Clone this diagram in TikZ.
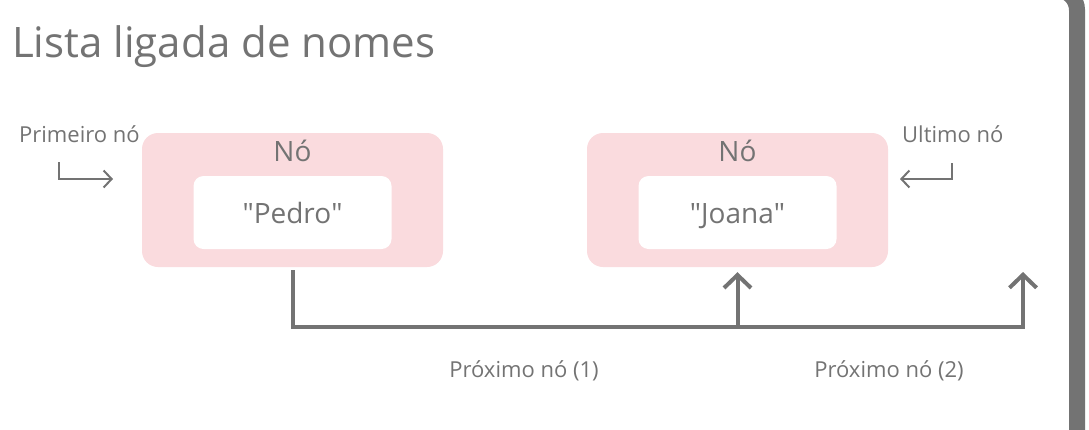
\documentclass[tikz,border=0pt]{standalone}
\usepackage{fontspec}
\setmainfont{Open Sans}
\usetikzlibrary{arrows.meta}
\definecolor{cinza}{RGB}{115,115,115}
\definecolor{rosa}{RGB}{250,219,222}

\begin{document}
\begin{tikzpicture}[x=1pt, y=-1pt, node distance=445pt,
  no/.style={rectangle, minimum height=134pt, minimum width=301pt, rounded corners=16pt, fill=rosa},
  titulo-no/.style={text=cinza, inner sep=0pt, font=\fontsize{28}{34}\selectfont},
  valor/.style={rectangle, minimum height=73pt, minimum width=198pt, rounded corners=10pt, fill=white, text=cinza, text height=21pt, text depth=0pt, font=\fontsize{28}{34}\selectfont},
  rotulo/.style={text=cinza, inner sep=0pt, font=\fontsize{22}{26}\selectfont},
  ligacao/.style={draw=cinza, line width=4pt, -{Straight Barb[length=13pt,width=27pt]}},
  ponteiro/.style={draw=cinza, line width=2pt, -{Straight Barb[length=8pt,width=17pt]}}]
\useasboundingbox (0,0) rectangle (1089,429);
% Titulo
\node[rotulo, anchor=base west, font=\fontsize{42}{50}\selectfont] (titulo) at (12,57) {Lista ligada de nomes};
% Moldura
\draw[cinza, line width=16pt, rounded corners=20pt] (900,-10) -- (1077,-10) -- (1077,450);
% Nos
\node[no, label={[titulo-no, anchor=base, yshift=-29pt]north:Nó}] (no-A) at (292.5,200) {};
\node[no, right of=no-A, label={[titulo-no, anchor=base, yshift=-29pt]north:Nó}] (no-B) {};
% Valores
\node[valor, yshift=-12.5pt] (valor-A) at (no-A) {\textquotedbl Pedro\textquotedbl};
\node[valor, yshift=-12.5pt] (valor-B) at (no-B) {\textquotedbl Joana\textquotedbl};
% Primeiro e ultimo
\node[rotulo, anchor=base west] (primeiro) at (19,142) {Primeiro nó};
\node[rotulo, anchor=base west] (ultimo) at (902,142) {Ultimo nó};
\coordinate (prim-a) at (59,162);
\coordinate (prim-b) at (113,179);
\coordinate (ult-a) at (952,163);
\coordinate (ult-b) at (900,179);
\draw[ponteiro] (prim-a) |- (prim-b);
\draw[ponteiro] (ult-a) |- (ult-b);
% Ligacoes
\coordinate (linha) at (0,327);
\coordinate (nulo) at (1023,272);
\draw[ligacao] ([yshift=-3pt]no-A.south) -- (no-A.south |- linha) -- (nulo |- linha) -- (nulo);
\draw[ligacao] (no-B.south |- linha) -- ([yshift=-5pt]no-B.south);
\node[rotulo, anchor=base] (proximo-1) at (524,377) {Próximo nó (1)};
\node[rotulo, anchor=base] (proximo-2) at (889,377) {Próximo nó (2)};
\end{tikzpicture}
\end{document}
